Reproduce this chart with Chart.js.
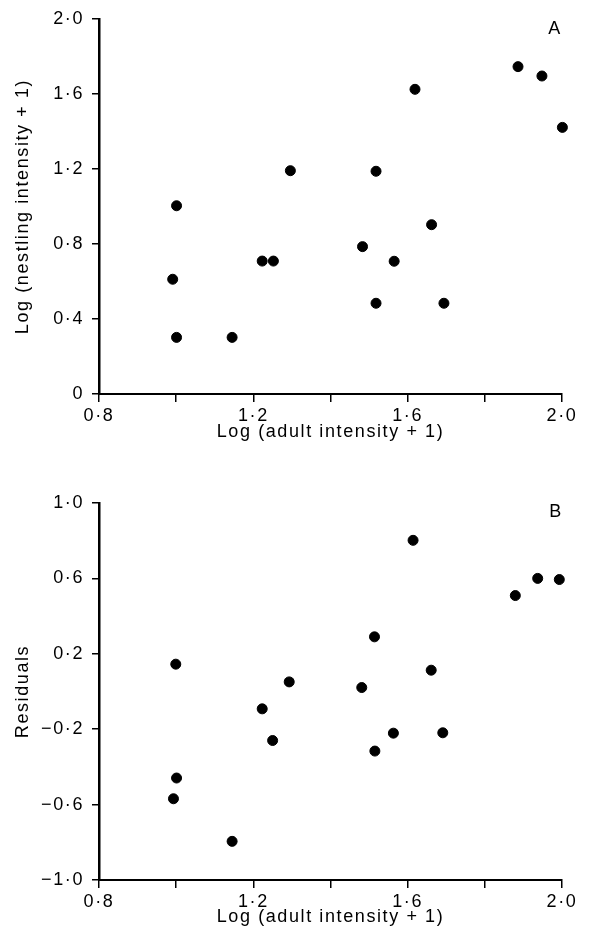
<!DOCTYPE html>
<html>
<head>
<meta charset="utf-8">
<script src="https://cdn.jsdelivr.net/npm/chart.js@4/dist/chart.umd.min.js"></script>
<style>
    html, body { margin: 0; padding: 0; background: #fff; }
    #wrap { position: relative; width: 591px; height: 941px; }
    .panel { position: absolute; left: 0; width: 591px; }
</style>
</head>
<body>
<div id="wrap">
    <div class="panel" style="top:0;height:470px"><canvas id="chart-a" width="591" height="470"></canvas></div>
    <div class="panel" style="top:470px;height:471px"><canvas id="chart-b" width="591" height="471"></canvas></div>
</div>
<script>
// panel A: log(adult intensity + 1) vs log(nestling intensity + 1)
const adultA = [1.001, 0.991, 1.001, 1.145, 1.223, 1.252, 1.296, 1.483, 1.518, 1.518, 1.565, 1.619, 1.662, 1.694, 1.886, 1.948, 2.001];
const nestlingA = [1.004, 0.612, 0.302, 0.302, 0.709, 0.709, 1.191, 0.786, 1.188, 0.484, 0.708, 1.625, 0.903, 0.484, 1.746, 1.696, 1.422];

// panel B: log(adult intensity + 1) vs residuals
const adultB = [0.999, 1.001, 0.993, 1.145, 1.223, 1.250, 1.293, 1.481, 1.514, 1.515, 1.563, 1.614, 1.661, 1.691, 1.879, 1.937, 1.993];
const residualsB = [0.145, -0.459, -0.569, -0.795, -0.092, -0.260, 0.051, 0.021, 0.290, -0.316, -0.221, 0.802, 0.113, -0.219, 0.509, 0.600, 0.594];

// axis ranges / ticks
const xRange = [0.8, 2.0];
const xStep = 0.2;
const yRangeA = [0, 2.0];
const yRangeB = [-1.0, 1.0];
const yStep = 0.4;

const xTitle = 'Log (adult intensity + 1)';
const yTitleA = 'Log (nestling intensity + 1)';
const yTitleB = 'Residuals';

const FONT = '"Liberation Sans", Arial, Helvetica, sans-serif';
const FONT_SIZE = 18;
const INK = '#000';

// 0.8 -> "0·8", -0.2 -> "−0·2"
function fmt(v) {
    if (Math.abs(v) < 1e-9) return '0';
    const s = Math.abs(v).toFixed(1).replace('.', '\u00b7');
    return (v < 0 ? '\u2212' : '') + s;
}

// wider letter spacing like the printed figure
const spacingPlugin = {
    id: 'spacing',
    beforeUpdate(chart) { chart.ctx.letterSpacing = '1.6px'; },
    beforeDraw(chart) { chart.ctx.letterSpacing = '1.6px'; }
};

// panel letter in the top right corner
const panelLetter = {
    id: 'panelLetter',
    afterDraw(chart, args, opts) {
        const { ctx, chartArea } = chart;
        ctx.save();
        ctx.font = FONT_SIZE + 'px ' + FONT;
        ctx.fillStyle = INK;
        ctx.textAlign = 'center';
        ctx.textBaseline = 'middle';
        ctx.fillText(opts.text, chartArea.right + opts.dx, chartArea.top + opts.dy);
        ctx.restore();
    }
};

function makeChart(id, xs, ys, yRange, yTitle, letter, pad, xHeight) {
    const points = xs.map((x, i) => ({ x, y: ys[i] }));
    return new Chart(document.getElementById(id).getContext('2d'), {
        type: 'scatter',
        data: {
            datasets: [{
                data: points,
                backgroundColor: '#000',
                borderColor: '#000',
                pointRadius: 5,
                pointHoverRadius: 5,
                clip: false,
            }]
        },
        options: {
            responsive: false,
            animation: false,
            events: [],
            layout: { padding: pad },
            plugins: {
                legend: { display: false },
                tooltip: { enabled: false },
                panelLetter: letter,
            },
            scales: {
                x: {
                    type: 'linear',
                    min: xRange[0],
                    max: xRange[1],
                    afterFit(scale) { scale.height = xHeight; },
                    ticks: {
                        stepSize: xStep,
                        autoSkip: false,
                        maxRotation: 0,
                        padding: 3,
                        color: INK,
                        font: { family: FONT, size: FONT_SIZE },
                        callback: v => (Math.round(v * 10) % 4 === 0 ? fmt(v) : ''),
                    },
                    grid: {
                        drawOnChartArea: false,
                        drawTicks: true,
                        tickLength: 8,
                        color: '#000',
                        lineWidth: 1.5,
                    },
                    border: { display: true, color: '#000', width: 2 },
                    title: {
                        display: true,
                        text: xTitle,
                        color: INK,
                        padding: 0,
                        font: { family: FONT, size: FONT_SIZE },
                    },
                },
                y: {
                    type: 'linear',
                    min: yRange[0],
                    max: yRange[1],
                    afterFit(scale) { scale.width = 87; },
                    ticks: {
                        stepSize: yStep,
                        autoSkip: false,
                        padding: 8,
                        color: INK,
                        font: { family: FONT, size: FONT_SIZE },
                        callback: v => fmt(v),
                    },
                    grid: {
                        drawOnChartArea: false,
                        drawTicks: true,
                        tickLength: 7,
                        color: '#000',
                        lineWidth: 1.5,
                    },
                    border: { display: true, color: '#000', width: 2.5 },
                    title: {
                        display: true,
                        text: yTitle,
                        color: INK,
                        padding: 0,
                        font: { family: FONT, size: FONT_SIZE },
                    },
                },
            },
        },
        plugins: [spacingPlugin, panelLetter],
    });
}

makeChart('chart-a', adultA, nestlingA, yRangeA, yTitleA,
    { text: 'A', dx: -7, dy: 10 },
    { top: 19, right: 29, bottom: 27, left: 12 }, 49);

makeChart('chart-b', adultB, residualsB, yRangeB, yTitleB,
    { text: 'B', dx: -6, dy: 9 },
    { top: 33, right: 29, bottom: 13, left: 12 }, 48);
</script>
</body>
</html>
